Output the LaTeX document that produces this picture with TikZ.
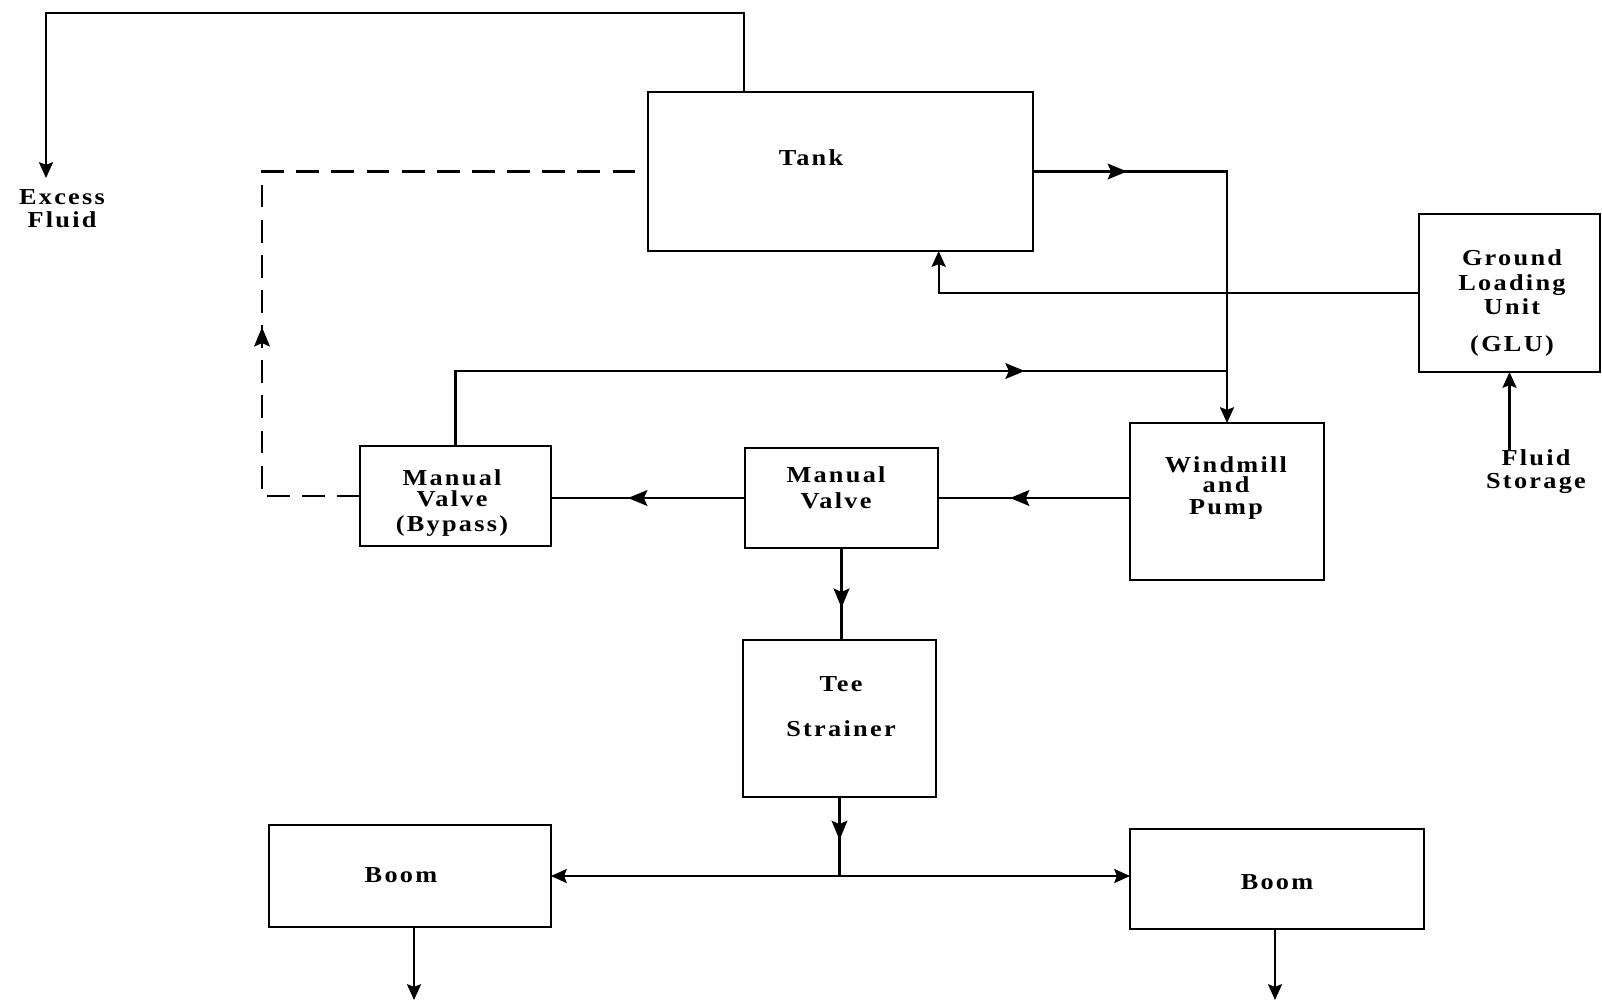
\documentclass[tikz,border=0pt]{standalone}
\usepackage{fontspec}
\setmainfont{Liberation Serif}[LetterSpace=10,FakeStretch=1.15]
\usetikzlibrary{arrows.meta,decorations.markings,calc}

\begin{document}
\begin{tikzpicture}[x=0.02cm, y=-0.02cm,
  pipe/.style={line width=1.2pt},
  box/.style={draw, line width=1.4pt, inner sep=0pt, outer sep=0pt},
  lbl/.style={font=\fontsize{13}{13}\selectfont\bfseries, align=center, inner sep=0pt},
  endtip/.tip={Stealth[length=9pt,width=8pt,inset=1.5pt]},
  midtip/.tip={Stealth[length=11pt,width=9pt,inset=2pt]},
  flowmark/.style={postaction={decorate}, decoration={markings, mark=at position #1 with {\arrow{midtip}}}}]
\useasboundingbox (0,0) rectangle (1602,1002);
% Boxes of the loading system
\node[box, minimum width=7.7cm, minimum height=3.18cm] (tank) at (840.5,171.5) {};
\node[box, minimum width=3.62cm, minimum height=3.16cm] (glu) at (1509.5,293) {};
\node[box, minimum width=3.88cm, minimum height=3.14cm] (wind) at (1227,501.5) {};
\node[box, minimum width=3.86cm, minimum height=2cm] (valve) at (841.5,498) {};
\node[box, minimum width=3.82cm, minimum height=2cm] (bypass) at (455.5,496) {};
\node[box, minimum width=3.86cm, minimum height=3.14cm] (tee) at (839.5,718.5) {};
\node[box, minimum width=5.64cm, minimum height=2.04cm] (boomL) at (410,876) {};
\node[box, minimum width=5.88cm, minimum height=2cm] (boomR) at (1277,879) {};
% Labels in the boxes
\node[lbl] (tanktext) at (811,158) {Tank};
\node[lbl] (glutext) at (1512,303) {Ground\\[1pt]Loading\\[1pt]Unit\\[8pt](GLU)};
\node[lbl] (windtext) at (1226,488) {Windmill\\[-1.5pt]and\\[-0.6pt]Pump};
\node[lbl] (valvetext) at (836,488) {Manual\\[1.7pt]Valve};
\node[lbl] (bypasstext) at (452,503) {Manual\\[-0.6pt]Valve\\[1.1pt](Bypass)};
\node[lbl] (teetext) at (841,707) {Tee\\[12.5pt]Strainer};
\node[lbl] (boomLtext) at (401,875.5) {Boom};
\node[lbl] (boomRtext) at (1277,882.5) {Boom};
% Free ends
\node[lbl] (excess) at (62,209) {Excess\\Fluid};
\node[lbl] (storage) at (1536,472) {Fluid\\Storage};
\coordinate (exout) at (46,178);
\coordinate (tankout) at ($(tank.north west)!0.25!(tank.north east)$);
\coordinate (tankin) at ($(tank.south west)!0.755!(tank.south east)$);
\coordinate (split) at (tee.south |- 0,876);
\coordinate (outL) at (414,1000);
\coordinate (outR) at (1275,1000);
% Overflow from the tank
\draw[pipe, -{endtip}] (tankout) |- (exout |- 0,13) -- (exout);
% Tank to windmill pump
\draw[pipe, flowmark=0.211, -{endtip}] (tank.east) -| (wind.north);
% Filling from the GLU
\draw[pipe, -{endtip}] (glu.west) -| (tankin);
\draw[pipe, -{endtip}] (glu.south |- storage.north) -- (glu.south);
% Bypass return line
\draw[pipe, flowmark=0.761] (bypass.north) |- (wind.north |- 0,371);
\draw[pipe, dash pattern=on 13pt off 7pt, flowmark=0.33] (bypass.west) -- ++(-98,0) |- (tank.west);
% Pump to valves
\draw[pipe, flowmark=0.625] (wind.west |- valve.east) -- (valve.east);
\draw[pipe, flowmark=0.603] (valve.west) -- (bypass.east |- valve.west);
% Valve to strainer and booms
\draw[pipe, flowmark=0.65] (valve.south) -- (valve.south |- tee.north);
\draw[pipe, flowmark=0.544] (tee.south) -- (split);
\draw[pipe, -{endtip}] (split) -- (split -| boomL.east);
\draw[pipe, -{endtip}] (split) -- (split -| boomR.west);
\draw[pipe, -{endtip}] (boomL.south -| outL) -- (outL);
\draw[pipe, -{endtip}] (boomR.south -| outR) -- (outR);
\end{tikzpicture}
\end{document}
